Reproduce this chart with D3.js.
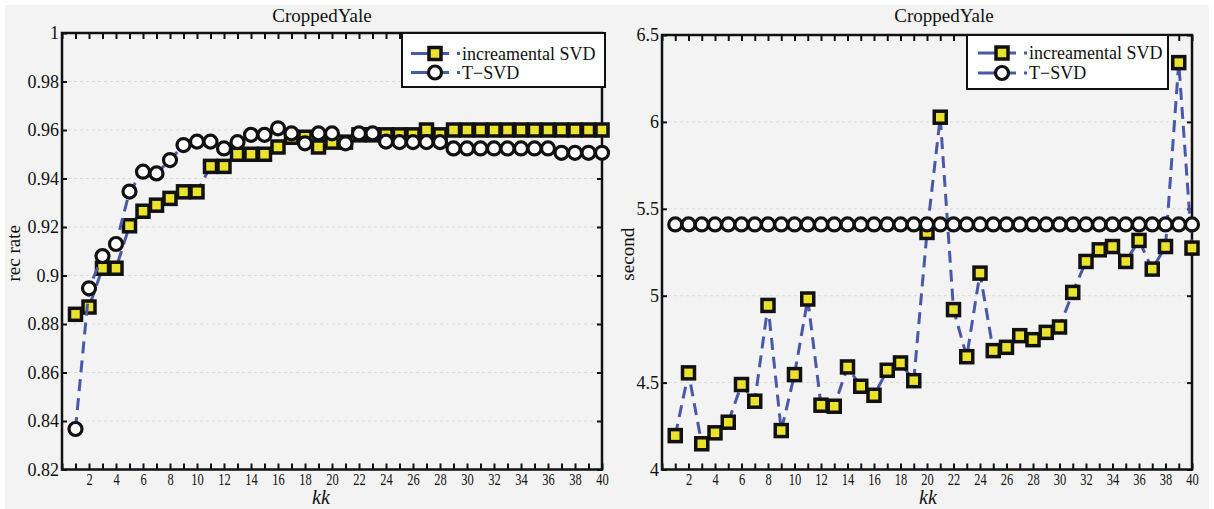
<!DOCTYPE html>
<html>
<head>
<meta charset="utf-8">
<script src="https://cdn.jsdelivr.net/npm/d3@7/dist/d3.min.js"></script>
<style>
  html, body { margin: 0; padding: 0; background: #ffffff; }
  svg { display: block; }
  svg text { font-family: "Liberation Serif", "Times New Roman", serif !important; fill: #111; }
</style>
</head>
<body>
<div id="chart"></div>
<script>
// ---------- data ----------
const kk = [1,2,3,4,5,6,7,8,9,10,11,12,13,14,15,16,17,18,19,20,21,22,23,24,25,26,27,28,29,30,31,32,33,34,35,36,37,38,39,40];
const xTickLabels = [2,4,6,8,10,12,14,16,18,20,22,24,26,28,30,32,34,36,38,40];
const seriesNames = ["increamental SVD", "T\u2212SVD"];
const titles = ["CroppedYale", "CroppedYale"];
const yLabels = ["rec rate", "second"];
const xLabel = "kk";

const recIncSVD = [0.884,0.887,0.903,0.903,0.9205,0.9265,0.929,0.9318,0.9345,0.9345,
                   0.945,0.945,0.950,0.950,0.950,0.953,0.957,0.957,0.953,0.955,
                   0.955,0.958,0.958,0.958,0.958,0.958,0.960,0.958,0.960,0.960,
                   0.960,0.960,0.960,0.960,0.960,0.960,0.960,0.960,0.960,0.960];
const recTSVD   = [0.8367,0.8947,0.908,0.913,0.9346,0.9428,0.9421,0.9476,0.9538,0.9552,
                   0.9552,0.9524,0.955,0.958,0.958,0.9607,0.9586,0.9545,0.9586,0.9586,
                   0.9545,0.9586,0.9586,0.9552,0.955,0.955,0.955,0.955,0.9524,0.9524,
                   0.9524,0.9524,0.9524,0.9524,0.9524,0.9524,0.9506,0.9506,0.9506,0.9506];
const secIncSVD = [4.195,4.556,4.148,4.211,4.272,4.489,4.393,4.944,4.224,4.546,
                   4.981,4.370,4.364,4.590,4.479,4.427,4.571,4.613,4.511,5.364,
                   6.027,4.920,4.649,5.130,4.684,4.703,4.770,4.747,4.789,4.820,
                   5.019,5.197,5.264,5.283,5.197,5.318,5.153,5.283,6.341,5.274];
const secTSVD   = [5.41,5.41,5.41,5.41,5.41,5.41,5.41,5.41,5.41,5.41,
                   5.41,5.41,5.41,5.41,5.41,5.41,5.41,5.41,5.41,5.41,
                   5.41,5.41,5.41,5.41,5.41,5.41,5.41,5.41,5.41,5.41,
                   5.41,5.41,5.41,5.41,5.41,5.41,5.41,5.41,5.41,5.41];
const recTicks = [0.82,0.84,0.86,0.88,0.9,0.92,0.94,0.96,0.98,1];
const secTicks = [4,4.5,5,5.5,6,6.5];

// ---------- layout ----------
const W = 1214, H = 509;
const LINE = "#4a58a8", YEL = "#ebe22c", BLK = "#111111";
const SQ = 12, CR = 6.5;

const svg = d3.select("#chart").append("svg").attr("width", W).attr("height", H)
  .attr("font-family", "'Liberation Serif', serif");
svg.append("rect").attr("x", 0).attr("y", 0).attr("width", W).attr("height", H).attr("fill", "#ffffff");
svg.append("rect").attr("x", 5).attr("y", 5).attr("width", 1204).attr("height", 504).attr("fill", "#f3f3f3");

const panels = [
  { x0: 62, x1: 602, y0: 33, y1: 469.5, domain: [0.82, 1], ticks: recTicks, fmt: d3.format(""),
    inc: recIncSVD, tsvd: recTSVD, title: titles[0], titleX: 322, ylab: yLabels[0], ylabX: 20,
    xlabX: 321, legend: { x0: 402, x1: 605, y0: 33, y1: 87, mx: 435, r1: 53.5, r2: 72.5 } },
  { x0: 662, x1: 1192, y0: 35, y1: 469.5, domain: [4, 6.5], ticks: secTicks, fmt: d3.format(""),
    inc: secIncSVD, tsvd: secTSVD, title: titles[1], titleX: 944, ylab: yLabels[1], ylabX: 634,
    xlabX: 928, legend: { x0: 967, x1: 1168, y0: 35, y1: 89, mx: 1002, r1: 53, r2: 73 } }
];

panels.forEach(p => {
  const x = d3.scaleLinear().domain([0, 40]).range([p.x0, p.x1]);
  const y = d3.scaleLinear().domain(p.domain).range([p.y1, p.y0]);
  const g = svg.append("g");

  // grid
  g.append("g").selectAll("line").data(p.ticks.slice(1, -1)).join("line")
    .attr("x1", p.x0).attr("x2", p.x1).attr("y1", d => y(d)).attr("y2", d => y(d))
    .attr("stroke", "#dadada").attr("stroke-width", 1).attr("stroke-dasharray", "3,3");

  // axes
  const allTicks = [0].concat(kk);
  const bottom = g.append("g").attr("transform", `translate(0,${p.y1})`)
    .call(d3.axisBottom(x).tickValues(allTicks)
      .tickFormat(d => xTickLabels.includes(d) ? String(d) : "")
      .tickSizeInner(-6).tickSizeOuter(0).tickPadding(4));
  bottom.selectAll("text").attr("font-size", 16).attr("transform", "scale(0.78,1)");
  const top = g.append("g").attr("transform", `translate(0,${p.y0})`)
    .call(d3.axisTop(x).tickValues(allTicks).tickFormat("").tickSizeInner(-6).tickSizeOuter(0));
  const left = g.append("g").attr("transform", `translate(${p.x0},0)`)
    .call(d3.axisLeft(y).tickValues(p.ticks).tickFormat(p.fmt).tickSizeInner(-5).tickSizeOuter(0).tickPadding(3));
  left.selectAll("text").attr("font-size", 18);
  const right = g.append("g").attr("transform", `translate(${p.x1},0)`)
    .call(d3.axisRight(y).tickValues(p.ticks).tickFormat("").tickSizeInner(-5).tickSizeOuter(0));
  [bottom, top, left, right].forEach(a => {
    a.attr("font-family", "'Liberation Serif', serif").attr("font-size", null);
    a.select(".domain").remove();
    a.selectAll(".tick line").attr("stroke", BLK).attr("stroke-width", 2);
    a.selectAll("text").attr("fill", BLK);
  });
  g.append("rect").attr("x", p.x0).attr("y", p.y0).attr("width", p.x1 - p.x0).attr("height", p.y1 - p.y0)
    .attr("fill", "none").attr("stroke", BLK).attr("stroke-width", 2.5);

  // labels
  g.append("text").attr("x", p.titleX).attr("y", 22).attr("text-anchor", "middle")
    .attr("font-size", 19).text(p.title);
  g.append("text").attr("transform", `translate(${p.ylabX},${(p.y0 + p.y1) / 2 + 2}) rotate(-90)`)
    .attr("text-anchor", "middle").attr("font-size", 19).text(p.ylab);
  g.append("text").attr("x", p.xlabX).attr("y", 504).attr("text-anchor", "middle")
    .attr("font-size", 20).attr("font-style", "italic").text(xLabel);

  // series
  const line = d3.line().x((d, i) => x(kk[i])).y(d => y(d));
  const drawSquares = (vals) => {
    g.append("path").datum(vals).attr("d", line).attr("fill", "none").attr("stroke", LINE)
      .attr("stroke-width", 3).attr("stroke-dasharray", "12,7");
    g.append("g").selectAll("rect").data(vals).join("rect")
      .attr("x", (d, i) => x(kk[i]) - SQ / 2).attr("y", d => y(d) - SQ / 2)
      .attr("width", SQ).attr("height", SQ)
      .attr("fill", YEL).attr("stroke", BLK).attr("stroke-width", 3.5);
  };
  const drawCircles = (vals) => {
    g.append("path").datum(vals).attr("d", line).attr("fill", "none").attr("stroke", LINE)
      .attr("stroke-width", 3).attr("stroke-dasharray", "12,7");
    g.append("g").selectAll("circle").data(vals).join("circle")
      .attr("cx", (d, i) => x(kk[i])).attr("cy", d => y(d)).attr("r", CR)
      .attr("fill", "#ffffff").attr("stroke", BLK).attr("stroke-width", 3.2);
  };
  drawSquares(p.inc);
  drawCircles(p.tsvd);

  // legend
  const L = p.legend;
  const lg = g.append("g");
  lg.append("rect").attr("x", L.x0).attr("y", L.y0).attr("width", L.x1 - L.x0).attr("height", L.y1 - L.y0)
    .attr("fill", "#ffffff").attr("stroke", BLK).attr("stroke-width", 2);
  [L.r1, L.r2].forEach((ry, idx) => {
    lg.append("line").attr("x1", L.mx - 24).attr("x2", L.mx + 25).attr("y1", ry).attr("y2", ry)
      .attr("stroke", LINE).attr("stroke-width", 3).attr("stroke-dasharray", "38,8,3,50");
    if (idx === 0) {
      lg.append("rect").attr("x", L.mx - SQ / 2).attr("y", ry - SQ / 2).attr("width", SQ).attr("height", SQ)
        .attr("fill", YEL).attr("stroke", BLK).attr("stroke-width", 3.5);
    } else {
      lg.append("circle").attr("cx", L.mx).attr("cy", ry).attr("r", CR)
        .attr("fill", "#ffffff").attr("stroke", BLK).attr("stroke-width", 3.2);
    }
    lg.append("text").attr("x", L.mx + 27).attr("y", ry + 6).attr("font-size", 18).text(seriesNames[idx]);
  });
});
</script>
</body>
</html>
